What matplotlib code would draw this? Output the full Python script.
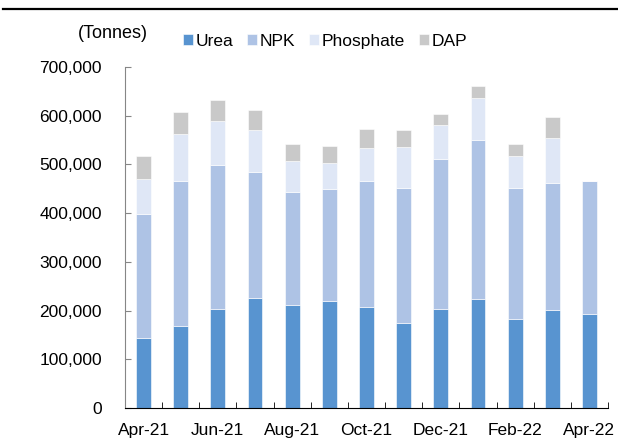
import matplotlib.pyplot as plt
import numpy as np
from matplotlib.lines import Line2D

months = ['Apr-21', 'May-21', 'Jun-21', 'Jul-21', 'Aug-21', 'Sep-21', 'Oct-21',
          'Nov-21', 'Dec-21', 'Jan-22', 'Feb-22', 'Mar-22', 'Apr-22']
urea = [143000, 169000, 203000, 226000, 212000, 219000, 208000,
        175000, 203000, 223000, 183000, 201000, 193000]
npk = [255000, 297000, 295000, 258000, 231000, 230000, 257000,
       277000, 309000, 327000, 269000, 260000, 273000]
phosphate = [73000, 97000, 92000, 86000, 64000, 54000, 69000,
             84000, 68000, 87000, 65000, 94000, 0]
dap = [47000, 45000, 43000, 41000, 35000, 35000, 38000,
       34000, 23000, 25000, 25000, 42000, 0]

colors = {'Urea': '#5894d0', 'NPK': '#aec3e5', 'Phosphate': '#dfe7f6', 'DAP': '#c9c9c9'}

plt.rcParams['font.family'] = ['Liberation Sans', 'DejaVu Sans']
plt.rcParams['font.size'] = 12.5

fig = plt.figure(figsize=(6.18, 4.41), dpi=100)
ax = fig.add_axes([125 / 618, 33 / 441, 483 / 618, 341 / 441])

x = np.arange(len(months))
w = 0.4
bottom = np.zeros(len(months))
for name, vals in [('Urea', urea), ('NPK', npk), ('Phosphate', phosphate), ('DAP', dap)]:
    vals = np.array(vals, dtype=float)
    ax.bar(x, vals, w, bottom=bottom, color=colors[name], label=name,
           edgecolor='white', linewidth=0.4)
    bottom += vals

ax.set_xlim(-0.5, len(months) - 0.5)
ax.set_ylim(0, 700000)
ax.set_yticks(np.arange(0, 700001, 100000))
ax.set_yticklabels([f'{v:,}' for v in range(0, 700001, 100000)])

ax.set_xticks(x[::2])
ax.set_xticklabels(months[::2])
ax.set_xticks(np.arange(-0.5, len(months)), minor=True)
ax.tick_params(axis='x', which='major', length=0, pad=11)
ax.tick_params(axis='x', which='minor', direction='in', length=4, color='black')
ax.tick_params(axis='y', direction='in', length=4, color='#868686', pad=16.5)

ax.spines['top'].set_visible(False)
ax.spines['right'].set_visible(False)
ax.spines['left'].set_color('#868686')
ax.spines['bottom'].set_color('black')

fig.text(78 / 618, 1 - 33 / 441, '(Tonnes)', va='center', ha='left', fontsize=13)
ax.legend(loc='center left', bbox_to_anchor=(182.5 / 618, 1 - 41.5 / 441), bbox_transform=fig.transFigure,
          ncol=4, frameon=False, borderpad=0, borderaxespad=0, handlelength=0.58, handleheight=0.58,
          handletextpad=0.15, columnspacing=0.8, fontsize=12.5)

fig.add_artist(Line2D([3 / 618, 1], [1 - 8.5 / 441] * 2, color='black', linewidth=1.6,
                      transform=fig.transFigure))

fig.savefig('out.png', dpi=100)
